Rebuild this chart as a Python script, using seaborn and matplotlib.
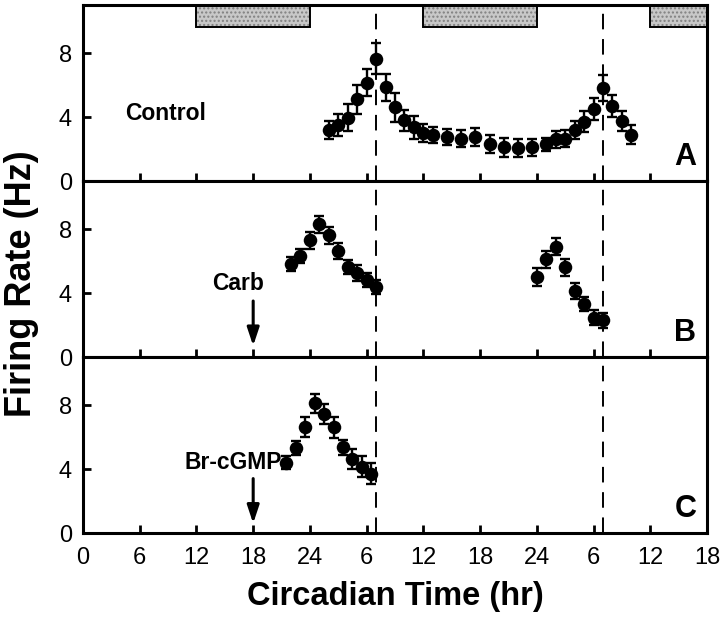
import numpy as np
import pandas as pd
import matplotlib
matplotlib.use("Agg")
import matplotlib.pyplot as plt
import seaborn as sns

# ---- data ----
ctrl_t = [26, 27, 28, 29, 30, 31, 32, 33, 34, 35, 36, 37, 38.5, 40, 41.5, 43, 44.5,
          46, 47.5, 49, 50, 51, 52, 53, 54, 55, 56, 57, 58]
ctrl_v = [3.2, 3.5, 3.95, 5.1, 6.15, 7.65, 5.85, 4.6, 3.8, 3.35, 3.0, 2.85, 2.75, 2.65, 2.75, 2.3, 2.1,
          2.05, 2.1, 2.3, 2.6, 2.65, 3.2, 3.7, 4.5, 5.8, 4.7, 3.75, 2.9]
ctrl_e = [0.55, 0.7, 0.85, 0.9, 0.85, 0.95, 0.85, 0.9, 0.65, 0.7, 0.55, 0.5, 0.5, 0.55, 0.55, 0.55, 0.57,
          0.57, 0.52, 0.4, 0.52, 0.52, 0.55, 0.65, 0.7, 0.8, 0.7, 0.65, 0.57]

carb_t = [22, 23, 24, 25, 26, 27, 28, 29, 30, 31, 48, 49, 50, 51, 52, 53, 54, 55]
carb_v = [5.8, 6.3, 7.3, 8.3, 7.6, 6.6, 5.65, 5.25, 4.8, 4.4, 5.0, 6.1, 6.9, 5.6, 4.15, 3.3, 2.45, 2.3]
carb_e = [0.42, 0.45, 0.53, 0.52, 0.52, 0.5, 0.44, 0.47, 0.44, 0.44, 0.57, 0.52, 0.52, 0.52, 0.5, 0.44, 0.47, 0.47]

brc_t = [21.5, 22.5, 23.5, 24.5, 25.5, 26.5, 27.5, 28.5, 29.5, 30.5]
brc_v = [4.4, 5.3, 6.6, 8.1, 7.45, 6.6, 5.35, 4.6, 4.15, 3.7]
brc_e = [0.42, 0.44, 0.63, 0.57, 0.63, 0.65, 0.49, 0.63, 0.68, 0.66]

night_start = [12, 36, 60]
night_end = [24, 48, 66]
dash_times = [31, 55]

x_ticks = [0, 6, 12, 18, 24, 30, 36, 42, 48, 54, 60, 66]
x_tick_labels = ["0", "6", "12", "18", "24", "6", "12", "18", "24", "6", "12", "18"]
y_ticks = [0, 4, 8]

panel_names = ["Control", "Carb", "Br-cGMP"]
panel_letters = ["A", "B", "C"]

# ---- style ----
sns.set_theme(style="ticks")
plt.rcParams["font.family"] = ["Liberation Sans", "DejaVu Sans"]
plt.rcParams.update({"text.color": "black", "axes.labelcolor": "black",
                     "xtick.color": "black", "ytick.color": "black",
                     "axes.edgecolor": "black"})

fig = plt.figure(figsize=(7.2, 6.28), dpi=100)
left, right = 83 / 720, 707 / 720
top_px, panel_h = 5, 176
axes = []
for i in range(3):
    y0 = 1 - (top_px + panel_h * (i + 1)) / 628
    ax = fig.add_axes([left, y0, right - left, panel_h / 628])
    axes.append(ax)

datasets = [(ctrl_t, ctrl_v, ctrl_e), (carb_t, carb_v, carb_e), (brc_t, brc_v, brc_e)]

for i, ax in enumerate(axes):
    t, v, e = datasets[i]
    df = pd.DataFrame({"t": t, "v": v, "e": e})
    ax.errorbar(df["t"], df["v"], yerr=df["e"], fmt="none", ecolor="black",
                elinewidth=1.7, capsize=3.6, capthick=1.7, zorder=3)
    sns.scatterplot(data=df, x="t", y="v", ax=ax, s=95, color="black",
                    edgecolor="black", linewidth=0, zorder=4, legend=False)
    for dt in dash_times:
        ax.axvline(dt, color="black", lw=1.4, dashes=(8, 5), zorder=2)
    ax.set_xlim(0, 66)
    ax.set_ylim(0, 11)
    ax.set_yticks(y_ticks)
    ax.set_yticklabels([str(y) for y in y_ticks], fontsize=17)
    ax.set_xticks(x_ticks)
    ax.tick_params(axis="both", direction="in", length=6, width=2, pad=8)
    ax.tick_params(axis="x", pad=10)
    if i < 2:
        ax.set_xticklabels([])
    else:
        ax.set_xticklabels(x_tick_labels, fontsize=17)
    ax.set_xlabel("")
    ax.set_ylabel("")
    for sp in ax.spines.values():
        sp.set_visible(True)
        sp.set_linewidth(2.2)
        sp.set_color("black")
    ax.text(63.7, 1.5, panel_letters[i], fontsize=22, fontweight="bold",
            ha="center", va="center")

# night bars in panel A
axA = axes[0]
widths = [e - s for s, e in zip(night_start, night_end)]
axA.bar(night_start, [1.4] * 3, width=widths, bottom=9.6, align="edge",
        color="#c8c8c8", edgecolor="#808080", hatch="....", linewidth=0, zorder=1)
axA.bar(night_start, [1.4] * 3, width=widths, bottom=9.6, align="edge",
        fill=False, edgecolor="black", linewidth=1.4, zorder=1.5)

axA.text(8.7, 4.25, panel_names[0], fontsize=16.5, fontweight="bold", ha="center", va="center")
axes[1].text(16.4, 4.6, panel_names[1], fontsize=16.5, fontweight="bold", ha="center", va="center")
axes[2].text(15.9, 4.4, panel_names[2], fontsize=16.5, fontweight="bold", ha="center", va="center")

for ax, (y_from, y_to) in zip(axes[1:], [(3.5, 0.7), (3.4, 0.6)]):
    ax.annotate("", xy=(18, y_to), xytext=(18, y_from),
                arrowprops=dict(arrowstyle="-|>,head_width=0.3,head_length=0.9",
                                color="black", lw=2.2, shrinkA=0, shrinkB=0))

fig.text(395 / 720, 1 - 597 / 628, "Circadian Time (hr)", fontsize=23.5,
         fontweight="bold", ha="center", va="center")
fig.text(22 / 720, 1 - 284 / 628, "Firing Rate (Hz)", fontsize=26,
         fontweight="bold", ha="center", va="center", rotation=90)

fig.savefig("out.png", dpi=100)
